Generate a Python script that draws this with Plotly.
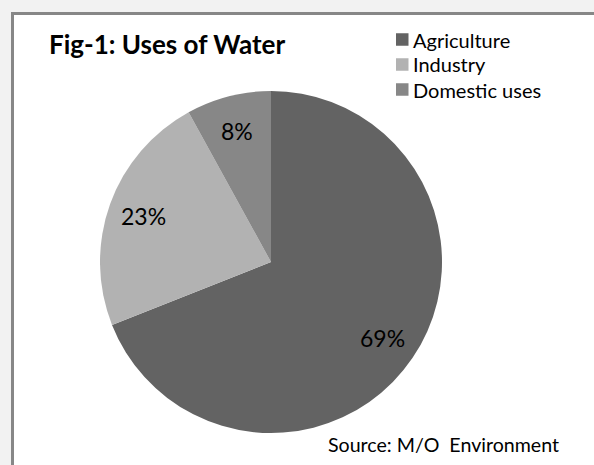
import math
import plotly.graph_objects as go

# Shares of water use (percent)
categories = ["Agriculture", "Industry", "Domestic uses"]
shares = [69, 23, 8]
colors = ["#636363", "#b2b2b2", "#878787"]

title_text = "Fig-1: Uses of Water"
source_text = "Source: M/O  Environment"

W, H = 594, 465
FONT = "Lato"

# pie geometry in pixels (from top-left)
cx, cy, r = 271, 262, 171


def px(x):
    return x / W


def py(y):
    return 1 - y / H


fig = go.Figure()
fig.add_trace(go.Pie(
    labels=categories,
    values=shares,
    sort=False,
    direction="clockwise",
    rotation=0,
    marker=dict(colors=colors, line=dict(color="#9a9a9a", width=0)),
    textinfo="none",
    hoverinfo="label+percent",
    showlegend=False,
    domain=dict(x=[px(cx - r), px(cx + r)], y=[py(cy + r), py(cy - r)]),
))

annotations = []
shapes = []

# outer chart frame
shapes.append(dict(type="rect", xref="paper", yref="paper",
                   x0=px(12.5), x1=1.1, y0=-0.1, y1=py(13.5),
                   line=dict(color="#878787", width=3), fillcolor="white", layer="below"))

# percentage labels placed at ~80% of the radius along each slice's mid-angle
total = sum(shares)
cum = 0
for v in shares:
    mid = (cum + v / 2) / total
    theta = 2 * math.pi * mid
    lx = cx + 0.79 * r * math.sin(theta)
    ly = cy - 0.79 * r * math.cos(theta)
    annotations.append(dict(x=px(lx), y=py(ly), xref="paper", yref="paper",
                            text=f"{round(v / total * 100)}%", showarrow=False,
                            font=dict(family=FONT, size=23, color="#000000"),
                            xanchor="center", yanchor="middle"))
    cum += v

# title
annotations.append(dict(x=px(47), y=py(44), xref="paper", yref="paper",
                        text=f"<b>{title_text}</b>", showarrow=False,
                        font=dict(family=FONT, size=26, color="#000000"),
                        xanchor="left", yanchor="middle"))

# legend
for i, (name, col) in enumerate(zip(categories, colors)):
    yc = 39.5 + 25 * i
    shapes.append(dict(type="rect", xref="paper", yref="paper",
                       x0=px(396), x1=px(408.5), y0=py(yc + 6.25), y1=py(yc - 6.25),
                       line=dict(width=0), fillcolor=col))
    annotations.append(dict(x=px(411), y=py(yc), xref="paper", yref="paper",
                            text=name, showarrow=False,
                            font=dict(family=FONT, size=20, color="#000000"),
                            xanchor="left", yanchor="middle"))

# source note
annotations.append(dict(x=px(326), y=py(444), xref="paper", yref="paper",
                        text=source_text, showarrow=False,
                        font=dict(family=FONT, size=19.6, color="#000000"),
                        xanchor="left", yanchor="middle"))

fig.update_layout(
    width=W, height=H,
    margin=dict(l=0, r=0, t=0, b=0),
    paper_bgcolor="#f2f2f2",
    plot_bgcolor="#f2f2f2",
    shapes=shapes,
    annotations=annotations,
)

fig.write_html("out.html")
